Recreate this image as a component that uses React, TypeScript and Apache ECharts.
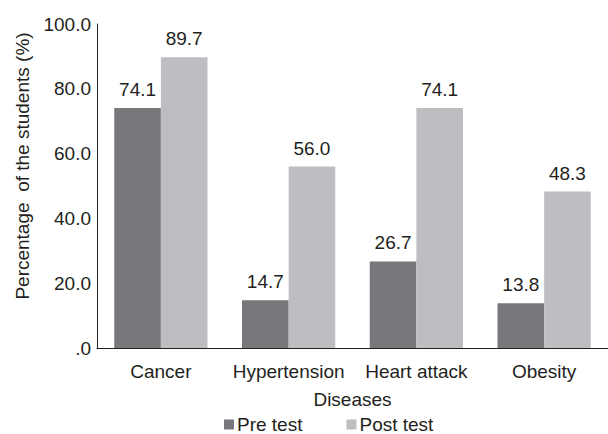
import React, { useEffect, useRef } from "react";
import * as echarts from "echarts";

const categories = ["Cancer", "Hypertension", "Heart attack", "Obesity"];
const preTest = [74.1, 14.7, 26.7, 13.8];
const postTest = [89.7, 56.0, 74.1, 48.3];
const seriesNames = ["Pre test", "Post test"];
const yTitle = "Percentage  of the students (%)";
const xTitle = "Diseases";

const FONT = "'Liberation Sans', Arial, Helvetica, sans-serif";
const TEXT = "#231f20";

export default function App() {
  const ref = useRef<HTMLDivElement>(null);

  useEffect(() => {
    if (!ref.current) return;
    const chart = echarts.init(ref.current, null, { renderer: "svg" });
    const label = {
      show: true,
      position: "top",
      distance: 9,
      color: TEXT,
      fontSize: 19,
      fontFamily: FONT,
      formatter: (p: any) => Number(p.value).toFixed(1),
    };
    chart.setOption({
      animation: false,
      backgroundColor: "#ffffff",
      textStyle: { fontFamily: FONT, color: TEXT },
      grid: { left: 97, right: 0, top: 24, bottom: 86, containLabel: false },
      graphic: [
        {
          type: "text",
          x: 22,
          y: 166,
          rotation: Math.PI / 2,
          style: {
            text: yTitle,
            fontSize: 19,
            fontFamily: FONT,
            fill: TEXT,
            align: "center",
            verticalAlign: "middle",
          },
        },
      ],
      legend: {
        data: seriesNames,
        left: 219,
        top: 410,
        icon: "rect",
        itemWidth: 10,
        itemHeight: 10,
        itemGap: 44,
        textStyle: { fontSize: 19, color: TEXT, fontFamily: FONT, padding: [0, 0, 0, -2] },
      },
      xAxis: {
        type: "category",
        data: categories,
        name: xTitle,
        nameLocation: "middle",
        nameGap: 42,
        nameTextStyle: { fontSize: 19, color: TEXT, fontFamily: FONT },
        axisLine: { lineStyle: { color: "#231f20", width: 1 } },
        axisTick: { show: false },
        axisLabel: { margin: 14, fontSize: 19, color: TEXT, fontFamily: FONT, interval: 0 },
      },
      yAxis: {
        type: "value",
        min: 0,
        max: 100,
        interval: 20,
        axisLine: { show: true, lineStyle: { color: "#231f20", width: 1 } },
        axisTick: { show: false },
        splitLine: { show: false },
        axisLabel: {
          margin: 6,
          fontSize: 19,
          color: TEXT,
          fontFamily: FONT,
          formatter: (v: number) => (v === 0 ? ".0" : v.toFixed(1)),
        },
      },
      series: [
        {
          name: seriesNames[0],
          type: "bar",
          data: preTest,
          barGap: "0%",
          barCategoryGap: "27%",
          itemStyle: { color: "#77787c" },
          label,
        },
        {
          name: seriesNames[1],
          type: "bar",
          data: postTest,
          barGap: "0%",
          barCategoryGap: "27%",
          itemStyle: { color: "#bdbec2" },
          label,
        },
      ],
    });
    return () => chart.dispose();
  }, []);

  return (
    <div
      ref={ref}
      style={{ position: "absolute", left: 0, top: 0, width: 608, height: 434 }}
    />
  );
}
